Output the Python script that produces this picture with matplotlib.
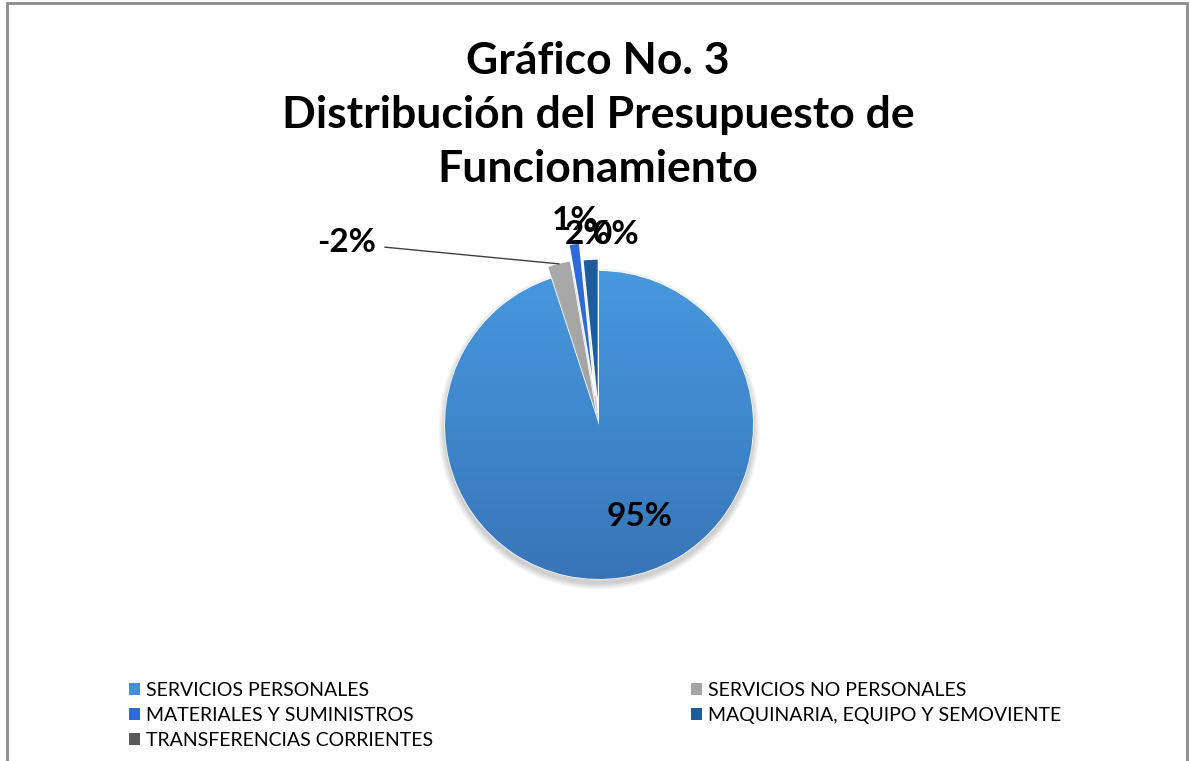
import numpy as np
import matplotlib
matplotlib.use("Agg")
import matplotlib.pyplot as plt
from matplotlib.patches import Rectangle, Circle

plt.rcParams["font.family"] = ["Lato", "DejaVu Sans"]

TITLE = "Gráfico No. 3\nDistribución del Presupuesto de\nFuncionamiento"

categories = [
    "SERVICIOS PERSONALES",
    "SERVICIOS NO PERSONALES",
    "MATERIALES Y SUMINISTROS",
    "MAQUINARIA, EQUIPO Y SEMOVIENTE",
    "TRANSFERENCIAS CORRIENTES",
]
# slice sizes as drawn (Excel draws the negative value by its magnitude)
slice_sizes = [94.5, 2.3, 1.1, 1.6, 0.0]
pct_labels = ["95%", "-2%", "1%", "2%", "0%"]

colors = ["#4290DA", "#A5A5A5", "#2F6BD6", "#1E5C9C", "#595959"]

W, H = 1190, 761
fig = plt.figure(figsize=(W / 100, H / 100), dpi=100)
ax = fig.add_axes([0, 0, 1, 1])
ax.set_xlim(0, W)
ax.set_ylim(0, H)
ax.set_aspect("equal")
ax.axis("off")

cx, cy, radius = 599, H - 425, 154
# pie explode is in data units here (pixels)
explode = [0, 12, 29, 12, 0]

# soft shadow under the pie
for i in range(8):
    ax.add_patch(Circle((cx, cy - 4), radius + 1 + i * 0.8, color="black",
                        alpha=0.025, lw=0, zorder=0))

wedges, _ = ax.pie(slice_sizes, colors=colors, explode=explode, startangle=90,
                   counterclock=False, center=(cx, cy), radius=radius,
                   wedgeprops=dict(edgecolor="white", linewidth=1.0))
for w in wedges:
    w.set_zorder(2)


def gradient_fill(wedge, top, bottom):
    top = np.array(matplotlib.colors.to_rgb(top))
    bottom = np.array(matplotlib.colors.to_rgb(bottom))
    t = np.linspace(0, 1, 256)[:, None]
    img = (bottom * (1 - t) + top * t)[:, None, :]
    y0, y1 = cy - radius * 1.3, cy + radius * 1.3
    im = ax.imshow(img, extent=(cx - radius * 1.3, cx + radius * 1.3, y0, y1),
                   origin="lower", aspect="auto", zorder=2.5)
    im.set_clip_path(wedge)


gradient_fill(wedges[0], "#4A9DE5", "#3570B2")
gradient_fill(wedges[1], "#ABABAB", "#9A9A9A")
ax.set_xlim(0, W)
ax.set_ylim(0, H)

# percentage labels (pixel offsets from the pie centre)
label_offsets = [(41, -92), (-252, 183), (-24, 205), (-11, 191), (16, 191)]
for i, (lab, (dx, dy)) in enumerate(zip(pct_labels, label_offsets)):
    if i == 1:
        continue
    ax.text(cx + dx, cy + dy, lab, ha="center", va="center", fontsize=24,
            fontweight="bold", color="black", zorder=5)

# -2% label with leader line to its slice
gw = wedges[1]
mid = np.deg2rad((gw.theta1 + gw.theta2) / 2)
tip = (gw.center[0] + gw.r * np.cos(mid), gw.center[1] + gw.r * np.sin(mid))
ax.annotate(pct_labels[1], xy=tip, xytext=(cx + label_offsets[1][0], cy + label_offsets[1][1]),
            ha="center", va="center", fontsize=24, fontweight="bold", zorder=5,
            arrowprops=dict(arrowstyle="-", color="#404040", lw=1.0,
                            relpos=(1.0, 0.35), shrinkA=4, shrinkB=0))

fig.text(598 / W, 1 - 115 / H, TITLE, ha="center", va="center", fontsize=32,
         fontweight="bold", linespacing=1.42)

# legend laid out row-wise like Excel
order = [0, 2, 4, 1, 3]
leg = fig.legend([wedges[i] for i in order], [categories[i] for i in order],
                 ncol=2, loc="upper left", bbox_to_anchor=(129 / W, 1 - 682 / H),
                 frameon=False, fontsize=14, handlelength=0.55, handleheight=0.55,
                 handletextpad=0.3, labelspacing=0.4, columnspacing=13.3,
                 borderpad=0, borderaxespad=0)
for h in leg.legend_handles:
    h.set_edgecolor("none")

fig.add_artist(Rectangle((7 / W, -0.1), (1187 - 7) / W, 0.1 + 758 / H,
                         transform=fig.transFigure, fill=False,
                         edgecolor="#8C8C8C", linewidth=2))

fig.savefig("out.png", dpi=100)
